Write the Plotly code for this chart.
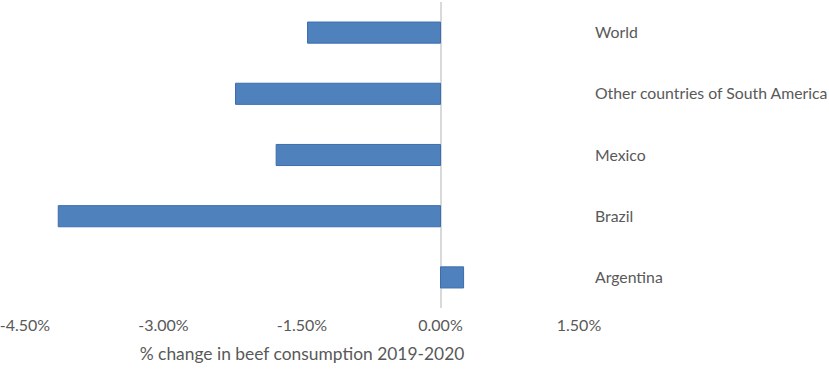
import plotly.graph_objects as go

categories = ["Argentina", "Brazil", "Mexico", "Other countries of South America", "World"]
values = [0.25, -4.14, -1.78, -2.22, -1.44]
tick_vals = [-4.5, -3.0, -1.5, 0.0, 1.5]
tick_text = ["-4.50%", "-3.00%", "-1.50%", "0.00%", "1.50%"]
x_title = "% change in beef consumption 2019-2020"

FONT = "Lato"
GRAY = "#595959"

fig = go.Figure(
    go.Bar(
        x=values,
        y=categories,
        orientation="h",
        marker=dict(color="#4F81BD", line=dict(color="#3C6DB0", width=1)),
    )
)

fig.update_layout(
    width=829,
    height=369,
    margin=dict(l=25, r=250, t=2, b=61),
    plot_bgcolor="white",
    paper_bgcolor="white",
    bargap=0.655,
    showlegend=False,
    font=dict(family=FONT, size=15, color=GRAY),
)

fig.update_xaxes(
    range=[-4.5, 1.5],
    tickvals=tick_vals,
    ticktext=tick_text,
    showgrid=False,
    zeroline=True,
    zerolinecolor="#D9D9D9",
    zerolinewidth=1.5,
    showline=False,
    ticks="",
    automargin=False,
    ticklabeloverflow="allow",
    ticklabelstandoff=6,
    tickfont=dict(family=FONT, size=16, color=GRAY),
    title=dict(text=x_title, font=dict(family=FONT, size=17.4, color=GRAY), standoff=14),
)

fig.update_yaxes(
    side="right",
    showgrid=False,
    zeroline=False,
    showline=False,
    ticks="",
    automargin=False,
    ticklabeloverflow="allow",
    ticklabelstandoff=15,
    tickfont=dict(family=FONT, size=15.8, color=GRAY),
    range=[-0.5, 4.5],
)

fig.write_html(
    "out.html",
    config={"displayModeBar": False},
    post_script="document.body.style.margin='0px';document.body.style.overflow='hidden';",
)
